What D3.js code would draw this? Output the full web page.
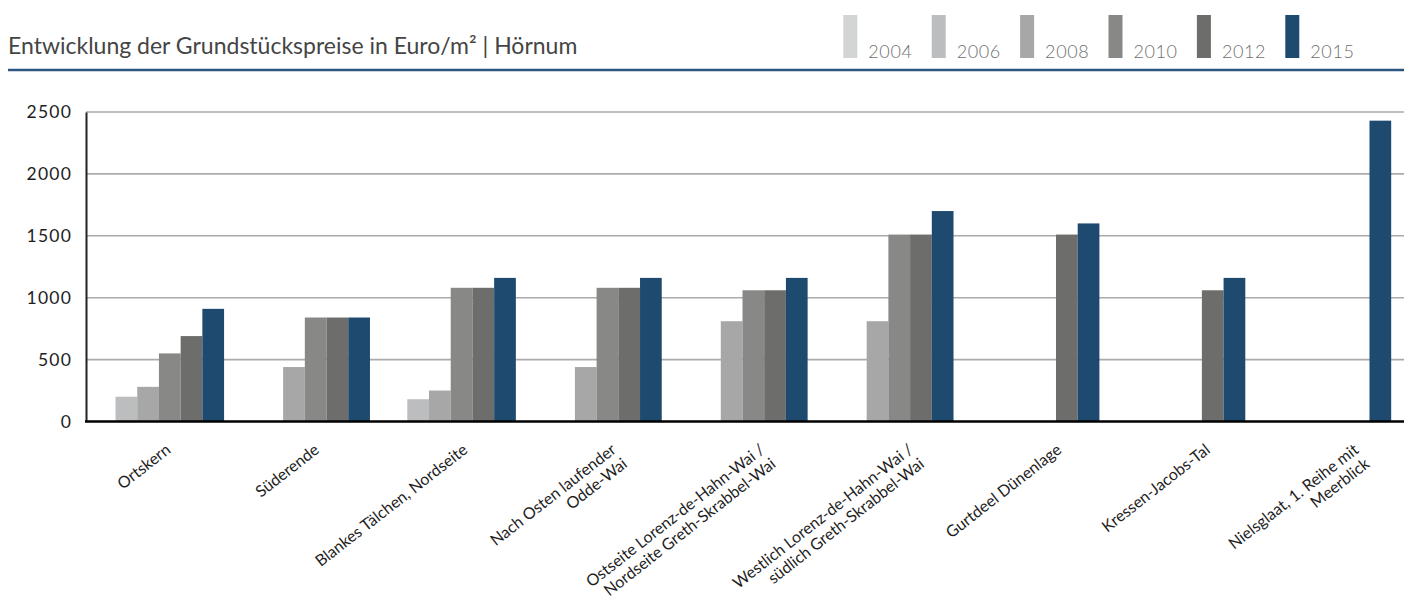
<!DOCTYPE html>
<html lang="de">
<head>
<meta charset="utf-8">
<script src="https://cdn.jsdelivr.net/npm/d3@7"></script>
<style>
  html, body { margin: 0; padding: 0; background: #fff; }
  svg { display: block; font-family: Lato, "Open Sans", sans-serif; }
</style>
</head>
<body>
<svg id="chart" width="1404" height="601"></svg>
<script>
// Bodenrichtwerte Hörnum, Euro/m², by location and survey year
const categories = [
  "Ortskern",
  "Süderende",
  "Blankes Tälchen, Nordseite",
  "Nach Osten laufender\nOdde-Wai",
  "Ostseite Lorenz-de-Hahn-Wai /\nNordseite Greth-Skrabbel-Wai",
  "Westlich Lorenz-de-Hahn-Wai /\nsüdlich Greth-Skrabbel-Wai",
  "Gurtdeel Dünenlage",
  "Kressen-Jacobs-Tal",
  "Nielsglaat, 1. Reihe mit\nMeerblick"
];
const years = ["2004", "2006", "2008", "2010", "2012", "2015"];

const values2004 = [null, null, null, null, null, null, null, null, null];
const values2006 = [200, null, 180, null, null, null, null, null, null];
const values2008 = [280, 440, 250, 440, 810, 810, null, null, null];
const values2010 = [550, 840, 1080, 1080, 1060, 1510, null, null, null];
const values2012 = [690, 840, 1080, 1080, 1060, 1510, 1510, 1060, null];
const values2015 = [910, 840, 1160, 1160, 1160, 1700, 1600, 1160, 2430];

const yTicks = [0, 500, 1000, 1500, 2000, 2500];
const yearColors = ["#d3d4d4", "#bcbdbf", "#a7a7a7", "#888887", "#6d6d6b", "#1f4a6f"];
const title = "Entwicklung der Grundstückspreise in Euro/m² | Hörnum";

const seriesValues = [values2004, values2006, values2008, values2010, values2012, values2015];
const rows = [];
seriesValues.forEach((vals, si) => {
  vals.forEach((v, ci) => {
    if (v != null) rows.push({ category: categories[ci], year: years[si], value: v });
  });
});

const svg = d3.select("#chart");
const W = 1404;

// layout
const plot = { left: 86, right: 1399, top: 112, bottom: 421.5 };

const x0 = d3.scaleBand().domain(categories).range([plot.left, plot.right]).padding(0);
const x1 = d3.scaleBand().domain(years).range([0, x0.bandwidth()]).paddingInner(0).paddingOuter(0.36);
const y = d3.scaleLinear().domain([0, 2500]).range([plot.bottom, plot.top]);
const color = d3.scaleOrdinal().domain(years).range(yearColors);
const labelX = d3.scalePoint().domain(categories).range([168, 1356]);

// title + rule
svg.append("text")
  .attr("x", 8).attr("y", 54)
  .attr("font-size", 23)
  .attr("fill", "#454545")
  .text(title);

svg.append("line")
  .attr("x1", 8).attr("x2", W)
  .attr("y1", 70).attr("y2", 70)
  .attr("stroke", "#2c5680").attr("stroke-width", 2.5);

// legend
const legend = svg.append("g").selectAll("g").data(years).join("g")
  .attr("transform", (d, i) => `translate(${843.3 + i * 88.4},0)`);
legend.append("rect")
  .attr("x", 0).attr("y", 15).attr("width", 14).attr("height", 43)
  .attr("fill", d => color(d));
legend.append("text")
  .attr("x", 25).attr("y", 58)
  .attr("font-size", 18).attr("font-weight", 300)
  .attr("letter-spacing", 0.6)
  .attr("fill", "#6f6f6f")
  .text(d => d);

// gridlines
svg.append("g").selectAll("line").data(yTicks.filter(t => t > 0)).join("line")
  .attr("x1", plot.left).attr("x2", W)
  .attr("y1", d => y(d)).attr("y2", d => y(d))
  .attr("stroke", "#ababab").attr("stroke-width", 1.6);

// y axis
const yAxis = svg.append("g")
  .attr("transform", `translate(${plot.left},0)`)
  .call(d3.axisLeft(y).tickValues(yTicks).tickSize(0).tickPadding(14).tickFormat(d3.format("d")));
yAxis.select(".domain").attr("stroke", "#222").attr("stroke-width", 2);
yAxis.selectAll("text")
  .attr("font-size", 17.5)
  .attr("letter-spacing", 1.2)
  .attr("fill", "#1e1e1e")
  .attr("font-family", "Lato, sans-serif");

// bars
svg.append("g").selectAll("rect").data(rows).join("rect")
  .attr("x", d => x0(d.category) + x1(d.year))
  .attr("y", d => y(d.value))
  .attr("width", x1.bandwidth())
  .attr("height", d => y(0) - y(d.value))
  .attr("fill", d => color(d.year));

// x axis baseline
svg.append("line")
  .attr("x1", plot.left - 1).attr("x2", W)
  .attr("y1", y(0)).attr("y2", y(0))
  .attr("stroke", "#000").attr("stroke-width", 2.5);

// rotated category labels
const lab = svg.append("g").selectAll("g").data(categories).join("g")
  .attr("transform", d => `translate(${labelX(d)},447) rotate(-38)`);
lab.each(function (d) {
  const lines = d.split("\n");
  d3.select(this).selectAll("text").data(lines).join("text")
    .attr("x", 0)
    .attr("y", (l, i) => 6 + i * 18)
    .attr("text-anchor", "end")
    .attr("font-size", 16)
    .attr("fill", "#1e1e1e")
    .text(l => l);
});
</script>
</body>
</html>
